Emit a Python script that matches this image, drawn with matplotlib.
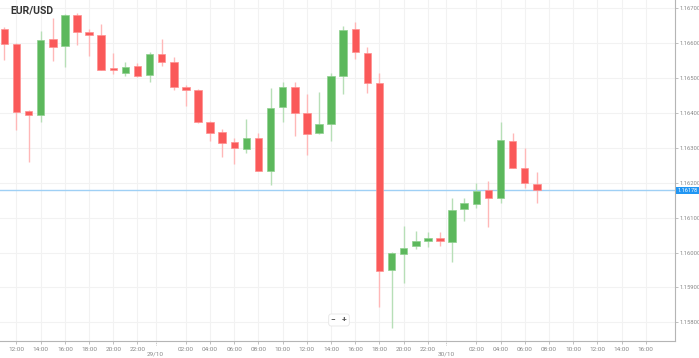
import matplotlib
matplotlib.use("Agg")
import matplotlib.pyplot as plt
import numpy as np

# hourly candles, hours counted from 29/10 00:00
hours = list(range(-13, 32))
opens = [1.16641, 1.16598, 1.16405, 1.16395, 1.16612, 1.16591, 1.16681, 1.16632, 1.16624, 1.16530,
         1.16514, 1.16534, 1.16508, 1.16569, 1.16545, 1.16475, 1.16466, 1.16375, 1.16345, 1.16318,
         1.16298, 1.16328, 1.16234, 1.16416, 1.16475, 1.16399, 1.16342, 1.16368, 1.16506, 1.16640,
         1.16572, 1.16485, 1.15950, 1.15995, 1.16020, 1.16033, 1.16041, 1.16031, 1.16125, 1.16139,
         1.16179, 1.16157, 1.16321, 1.16242, 1.16197]
highs = [1.16646, 1.16601, 1.16409, 1.16636, 1.16673, 1.16683, 1.16687, 1.16640, 1.16654, 1.16573,
         1.16547, 1.16542, 1.16574, 1.16611, 1.16560, 1.16480, 1.16468, 1.16376, 1.16355, 1.16328,
         1.16382, 1.16342, 1.16473, 1.16490, 1.16490, 1.16454, 1.16461, 1.16515, 1.16649, 1.16660,
         1.16590, 1.16514, 1.16002, 1.16077, 1.16062, 1.16060, 1.16058, 1.16156, 1.16156, 1.16200,
         1.16204, 1.16375, 1.16344, 1.16299, 1.16231]
lows = [1.16552, 1.16351, 1.16260, 1.16375, 1.16550, 1.16531, 1.16595, 1.16564, 1.16522, 1.16512,
        1.16506, 1.16504, 1.16489, 1.16535, 1.16466, 1.16421, 1.16372, 1.16320, 1.16275, 1.16254,
        1.16286, 1.16235, 1.16194, 1.16373, 1.16334, 1.16280, 1.16340, 1.16320, 1.16454, 1.16556,
        1.16458, 1.15845, 1.15783, 1.15912, 1.16010, 1.16015, 1.16019, 1.15974, 1.16091, 1.16128,
        1.16074, 1.16141, 1.16242, 1.16184, 1.16141]
closes = [1.16597, 1.16403, 1.16395, 1.16609, 1.16589, 1.16681, 1.16631, 1.16624, 1.16524, 1.16522,
          1.16533, 1.16506, 1.16568, 1.16546, 1.16475, 1.16465, 1.16373, 1.16343, 1.16315, 1.16301,
          1.16328, 1.16235, 1.16415, 1.16475, 1.16399, 1.16341, 1.16368, 1.16506, 1.16638, 1.16574,
          1.16485, 1.15947, 1.15998, 1.16014, 1.16033, 1.16043, 1.16034, 1.16122, 1.16141, 1.16177,
          1.16157, 1.16323, 1.16242, 1.16200, 1.16178]
current_price = 1.16178

price_ticks = [1.15800, 1.15900, 1.16000, 1.16100, 1.16200, 1.16300, 1.16400, 1.16500, 1.16600, 1.16700]
date_labels = ["29/10", "30/10"]
date_hours = [0, 24]

RED = "#fa5959"
GREEN = "#5cb85c"
RED_WICK = "#ffb8b8"
GREEN_WICK = "#b7dfb7"
GRID = "#f2f2f2"
AXIS = "#b5b5b5"
TXT = "#888888"

plt.rcParams["font.family"] = ["Roboto", "DejaVu Sans"]

fig = plt.figure(figsize=(6.99, 3.58), dpi=100)
ax = fig.add_axes([0.0, 17 / 358, 675 / 699, 341 / 358])

o = np.array(opens)
c = np.array(closes)
h = np.array(highs)
l = np.array(lows)
t = np.array(hours)
up = c >= o

# grid
for x in np.arange(-12, 42, 2):
    if x % 24 != 0:
        ax.axvline(x, color=GRID, lw=0.8, zorder=0)
for d in date_hours:
    ax.axvline(d - 0.5, color=GRID, lw=0.8, zorder=0)
for p in price_ticks:
    ax.axhline(p, color=GRID, lw=0.8, zorder=0)

# wicks
ax.vlines(t[up], l[up], h[up], color=GREEN_WICK, lw=1.0, zorder=2)
ax.vlines(t[~up], l[~up], h[~up], color=RED_WICK, lw=1.0, zorder=2)

# bodies
body_bottom = np.minimum(o, c)
body_height = np.maximum(np.abs(c - o), 0.00003)
ax.bar(t[up], body_height[up], bottom=body_bottom[up], width=0.62,
       color=GREEN, edgecolor="#8fd08f", linewidth=0.5, zorder=3)
ax.bar(t[~up], body_height[~up], bottom=body_bottom[~up], width=0.62,
       color=RED, edgecolor="#ff9090", linewidth=0.5, zorder=3)

# current price line
ax.axhline(current_price, color="#9fd0f5", lw=1.0, zorder=1)

ax.set_xlim(-13.36, 42.42)
ax.set_ylim(1.157467, 1.167238)

for s in ["top", "left"]:
    ax.spines[s].set_visible(False)
ax.spines["right"].set_color(AXIS)
ax.spines["bottom"].set_color(AXIS)

# y axis on the right
ax.yaxis.tick_right()
ax.set_yticks(price_ticks)
ax.set_yticklabels([f"{p:.5f}" for p in price_ticks])
ax.tick_params(axis="y", length=2, width=0.6, color=AXIS, labelsize=4.2,
               labelcolor=TXT, pad=1.0)

# x axis: every two hours, date label at day start
xt = [x for x in range(-12, 42, 2) if x % 24 != 0]
ax.set_xticks(xt)
ax.set_xticklabels([f"{x % 24:02d}:00" for x in xt])
ax.tick_params(axis="x", length=2.5, width=0.6, color=AXIS, labelsize=4.6,
               labelcolor=TXT, pad=1.5)
for d, lab in zip(date_hours, date_labels):
    ax.plot([d - 0.5, d - 0.5], [0, -0.012], transform=ax.get_xaxis_transform(),
            color=AXIS, lw=0.6, ls=(0, (1, 1)), clip_on=False)
    ax.text(d - 0.5, -0.03, lab, transform=ax.get_xaxis_transform(),
            ha="center", va="top", fontsize=4.6, color=TXT)

# price tag
ax.text(1.003, current_price, f"{current_price:.5f}", transform=ax.get_yaxis_transform(),
        ha="left", va="center", fontsize=4.0, color="white",
        bbox=dict(boxstyle="square,pad=0.25", fc="#2196f3", ec="none"), clip_on=False)

# title
fig.text(10 / 699, 1 - 11 / 358, "EUR/USD", fontsize=7.5, fontweight="bold",
         color="#333333", ha="left", va="center")

# zoom buttons
fig.text(339 / 699, 1 - 320 / 358, "\u2212   +", fontsize=6, fontweight="bold",
         color="#555555", ha="center", va="center",
         bbox=dict(boxstyle="round,pad=0.3", fc="white", ec="#e6e6e6", lw=0.6))

fig.savefig("out.png", dpi=100)
